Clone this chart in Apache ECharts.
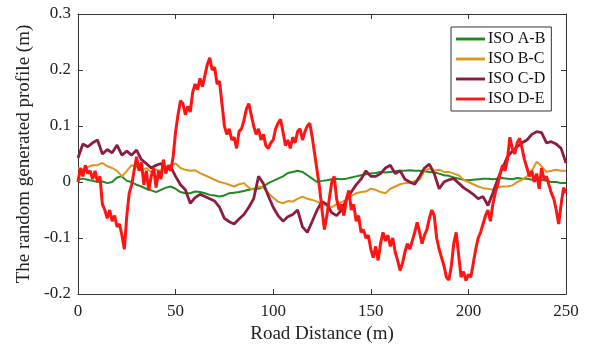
<!DOCTYPE html>
<html>
<head>
<meta charset="utf-8">
<script src="https://cdn.jsdelivr.net/npm/echarts@6/dist/echarts.min.js"></script>
<style>html,body{margin:0;padding:0;background:#fff;}#c{width:589px;height:350px;}</style>
</head>
<body>
<div id="c"></div>
<script>
// ---- data ----
var seriesNames = ['ISO A-B', 'ISO B-C', 'ISO C-D', 'ISO D-E'];
var xTickLabels = ['0', '50', '100', '150', '200', '250'];
var yTickLabels = ['-0.2', '-0.1', '0', '0.1', '0.2', '0.3'];
var stepCoarse = 2.5;   // m between samples for A-B, B-C, C-D
var stepFine = 1.25;    // m between samples for D-E

var isoAB = [0.004,0.006,0.004,0.002,0.0,0.001,-0.002,0.0,0.008,0.01,
  0.002,0.0,-0.005,-0.008,-0.012,-0.015,-0.018,-0.014,-0.01,-0.008,
  -0.012,-0.018,-0.02,-0.02,-0.017,-0.018,-0.02,-0.023,-0.024,-0.026,
  -0.024,-0.02,-0.019,-0.018,-0.016,-0.014,-0.012,-0.012,-0.008,-0.002,
  0.002,0.006,0.01,0.016,0.018,0.02,0.018,0.012,0.006,0.0,
  0.002,0.003,0.005,0.006,0.005,0.006,0.008,0.01,0.012,0.014,
  0.015,0.016,0.018,0.017,0.018,0.019,0.02,0.02,0.021,0.02,
  0.02,0.019,0.018,0.017,0.015,0.012,0.011,0.008,0.006,0.004,
  0.003,0.004,0.005,0.006,0.006,0.005,0.006,0.007,0.006,0.005,
  0.007,0.006,0.006,0.004,0.003,0.004,0.002,0.0,0.0,-0.002,-0.002];

var isoBC = [0.025,0.022,0.027,0.03,0.03,0.034,0.028,0.025,0.02,0.01,
  0.02,0.03,0.027,0.02,0.025,0.018,0.022,0.02,0.026,0.03,
  0.033,0.025,0.022,0.02,0.021,0.016,0.012,0.008,0.004,0.0,
  -0.002,-0.005,-0.008,-0.004,-0.002,-0.01,-0.014,-0.008,-0.01,-0.02,
  -0.028,-0.035,-0.038,-0.034,-0.035,-0.03,-0.026,-0.03,-0.032,-0.035,
  -0.04,-0.042,-0.045,-0.04,-0.036,-0.032,-0.025,-0.02,-0.018,-0.017,
  -0.012,-0.014,-0.018,-0.02,-0.012,-0.008,-0.004,-0.002,-0.002,0.002,
  0.004,0.02,0.024,0.02,0.022,0.018,0.018,0.015,0.012,0.004,
  0.0,-0.004,-0.008,-0.011,-0.012,-0.014,-0.01,-0.008,-0.008,-0.006,
  0.0,0.004,0.01,0.02,0.036,0.028,0.018,0.02,0.022,0.02,0.02];

var isoCD = [0.043,0.068,0.063,0.07,0.075,0.05,0.058,0.052,0.066,0.048,
  0.055,0.048,0.057,0.04,0.033,0.025,0.03,0.033,0.022,0.027,
  0.01,-0.005,-0.014,-0.038,-0.028,-0.022,-0.026,-0.03,-0.034,-0.045,
  -0.065,-0.071,-0.075,-0.066,-0.058,-0.045,-0.03,0.01,-0.003,-0.025,
  -0.045,-0.06,-0.07,-0.062,-0.058,-0.05,-0.08,-0.09,-0.07,-0.05,
  -0.035,-0.04,-0.055,-0.06,-0.05,-0.032,-0.018,-0.005,0.005,0.02,
  0.01,0.01,0.015,0.025,0.03,0.015,0.02,0.005,0.0,-0.004,
  0.01,0.025,0.032,0.015,-0.012,0.0,0.004,0.006,-0.002,-0.01,
  -0.016,-0.022,-0.03,-0.026,-0.042,-0.02,0.005,0.025,0.045,0.055,
  0.063,0.07,0.075,0.085,0.09,0.088,0.07,0.072,0.068,0.06,0.034];

var isoDE = [0.0,0.025,0.01,0.03,0.015,0.02,0.005,0.02,0.0,0.01,
  -0.04,-0.05,-0.065,-0.05,-0.07,-0.06,-0.08,-0.075,-0.095,-0.12,
  -0.06,-0.02,-0.005,0.02,0.045,0.02,0.035,-0.005,0.02,-0.015,
  0.01,0.025,-0.01,0.02,0.005,0.04,0.015,0.03,0.02,0.045,
  0.09,0.12,0.145,0.14,0.12,0.135,0.125,0.16,0.175,0.165,
  0.185,0.17,0.19,0.21,0.222,0.2,0.205,0.175,0.18,0.14,
  0.1,0.085,0.095,0.075,0.08,0.06,0.09,0.095,0.11,0.13,
  0.14,0.12,0.1,0.085,0.095,0.075,0.085,0.065,0.06,0.07,
  0.075,0.095,0.105,0.112,0.09,0.065,0.075,0.06,0.08,0.07,
  0.09,0.095,0.075,0.09,0.1,0.105,0.08,0.05,0.02,-0.01,
  -0.05,-0.085,-0.06,-0.03,0.0,0.01,-0.03,-0.05,-0.04,-0.06,
  -0.03,-0.015,-0.05,-0.04,-0.07,-0.06,-0.09,-0.085,-0.1,-0.095,
  -0.12,-0.135,-0.115,-0.14,-0.11,-0.09,-0.105,-0.095,-0.115,-0.1,
  -0.125,-0.14,-0.158,-0.145,-0.125,-0.11,-0.12,-0.105,-0.09,-0.072,
  -0.09,-0.11,-0.095,-0.085,-0.065,-0.05,-0.06,-0.1,-0.12,-0.135,
  -0.15,-0.17,-0.175,-0.15,-0.11,-0.09,-0.13,-0.17,-0.16,-0.176,
  -0.165,-0.17,-0.145,-0.12,-0.1,-0.09,-0.075,-0.06,-0.05,-0.07,
  -0.04,-0.02,-0.005,0.015,0.03,0.02,0.04,0.08,0.06,0.05,
  0.07,0.078,0.06,0.04,0.025,0.01,0.02,0.0,0.015,-0.012,
  0.025,0.005,0.01,-0.005,-0.02,-0.03,-0.05,-0.075,-0.04,-0.01,
  -0.02];

var colors = ['#1f8a1f', '#dd951f', '#8c1c40', '#ff1414'];
var widths = [2, 2, 2.8, 3];

// ---- chart ----
function pairs(arr, step) { return arr.map(function (v, i) { return [i * step, v]; }); }
var dataSets = [pairs(isoAB, stepCoarse), pairs(isoBC, stepCoarse), pairs(isoCD, stepCoarse), pairs(isoDE, stepFine)];

var font = 'Liberation Serif, Times New Roman, serif';
var axisCol = '#333';
var xLabelMap = {}; xTickLabels.forEach(function (t) { xLabelMap[Number(t)] = t; });
var yLabelMap = {}; yTickLabels.forEach(function (t) { yLabelMap[Number(t).toFixed(1)] = t; });

var chart = echarts.init(document.getElementById('c'), null, { renderer: 'canvas' });
var baseX = { type: 'value', min: 0, max: 250, interval: 50, splitLine: { show: false },
  axisLine: { show: true, onZero: false, lineStyle: { color: axisCol, width: 1 } },
  axisTick: { show: true, inside: true, length: 5, lineStyle: { color: axisCol } } };
var baseY = { type: 'value', min: -0.2, max: 0.3, interval: 0.1, splitLine: { show: false },
  axisLine: { show: true, onZero: false, lineStyle: { color: axisCol, width: 1 } },
  axisTick: { show: true, inside: true, length: 5, lineStyle: { color: axisCol } } };

chart.setOption({
  animation: false,
  backgroundColor: '#fff',
  grid: { left: 78, right: 23, top: 14, bottom: 56, containLabel: false },
  legend: {
    orient: 'vertical', left: 451, top: 27,
    padding: [4, 6, 4, 5], itemGap: 4, itemWidth: 29, itemHeight: 14,
    borderColor: '#333', borderWidth: 1, backgroundColor: '#fff',
    textStyle: { fontFamily: font, fontSize: 16, color: '#111', padding: [0, 0, 0, -2] },
    data: seriesNames.map(function (n, i) { return { name: n, icon: 'path://M0,0L10,0L10,1L0,1Z', itemStyle: { color: colors[i] } }; })
  },
  xAxis: [
    Object.assign({}, baseX, { position: 'bottom', name: 'Road Distance (m)', nameLocation: 'middle', nameGap: 28,
      nameTextStyle: { fontFamily: font, fontSize: 19, color: '#222' },
      axisLabel: { margin: 9, fontFamily: font, fontSize: 17, color: '#222',
        formatter: function (v) { return xLabelMap[v] !== undefined ? xLabelMap[v] : ''; } } }),
    Object.assign({}, baseX, { position: 'top', axisLabel: { show: false } })
  ],
  yAxis: [
    Object.assign({}, baseY, { position: 'left', name: 'The random generated profile (m)', nameLocation: 'middle', nameGap: 38,
      nameTextStyle: { fontFamily: font, fontSize: 19, color: '#222' },
      axisLabel: { margin: 7, fontFamily: font, fontSize: 17, color: '#222',
        formatter: function (v) { var k = Number(v).toFixed(1); if (k === '-0.0') k = '0.0'; return yLabelMap[k] !== undefined ? yLabelMap[k] : ''; } } }),
    Object.assign({}, baseY, { position: 'right', axisLabel: { show: false } })
  ],
  series: seriesNames.map(function (n, i) {
    return { name: n, type: 'line', xAxisIndex: 0, yAxisIndex: 0, data: dataSets[i],
      symbol: 'none', showSymbol: false, smooth: false,
      lineStyle: { color: colors[i], width: widths[i] }, itemStyle: { color: colors[i] } };
  })
});
</script>
</body>
</html>
